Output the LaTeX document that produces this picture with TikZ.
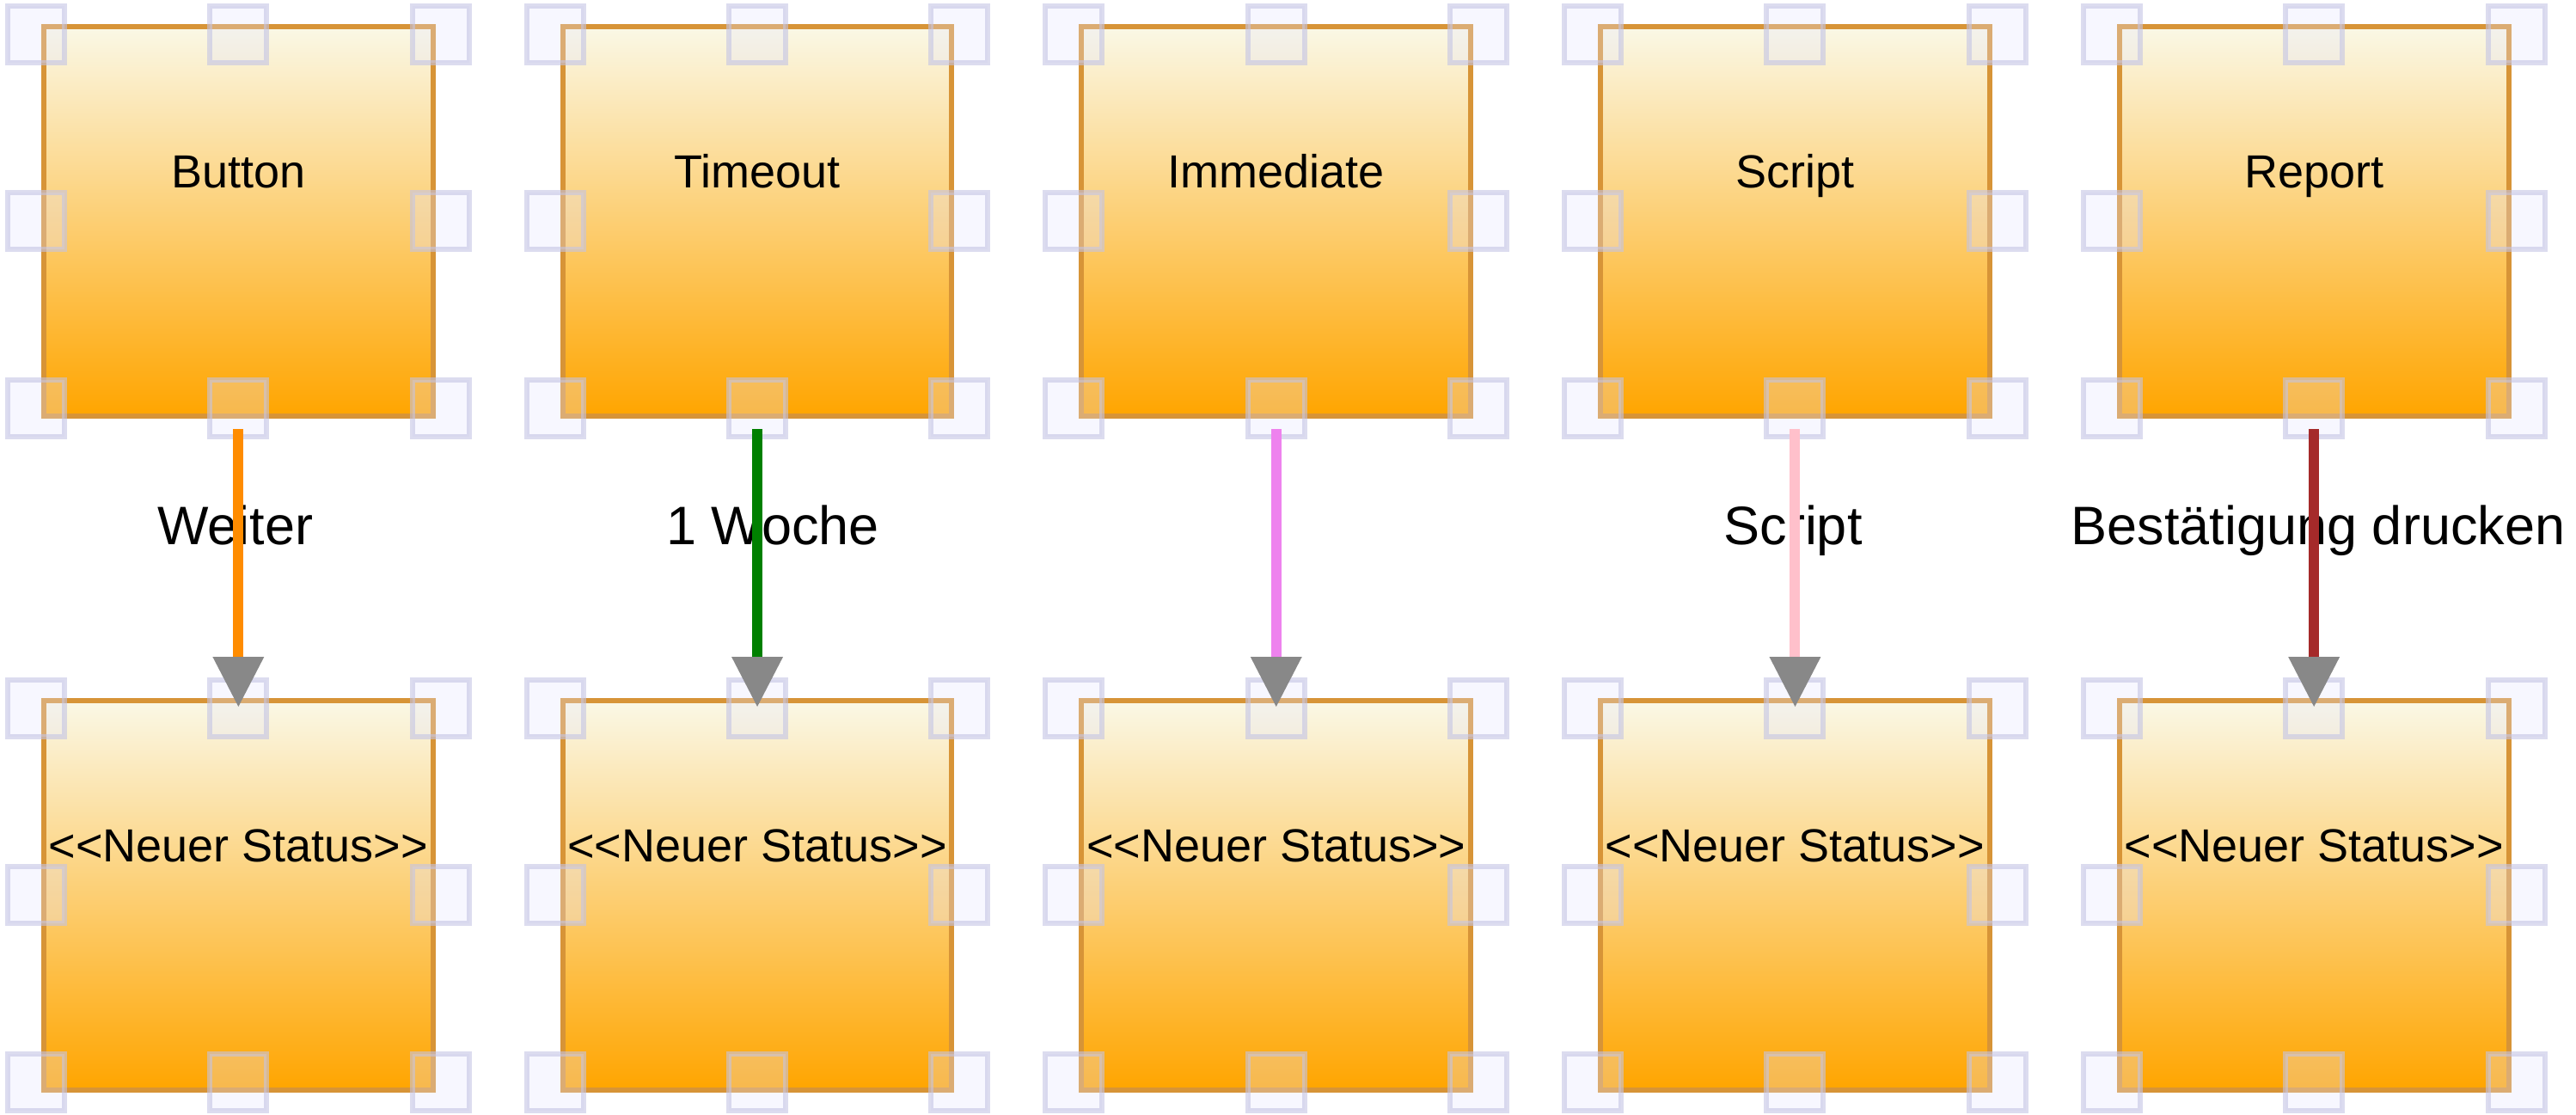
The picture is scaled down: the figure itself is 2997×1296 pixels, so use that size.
\documentclass[tikz,border=0pt]{standalone}
\usepackage{fontspec}
\setmainfont{Liberation Sans}[Ligatures=TeXOff]
\usetikzlibrary{arrows.meta}
\definecolor{boxstroke}{RGB}{215,148,55}
\definecolor{boxtop}{RGB}{250,248,230}
\definecolor{boxbottom}{RGB}{255,165,0}
\definecolor{handlestroke}{RGB}{196,196,228}
\definecolor{handlefill}{RGB}{230,230,255}
\definecolor{arrowgray}{RGB}{136,136,136}
\definecolor{cdarkorange}{RGB}{255,140,0}
\definecolor{cgreen}{RGB}{0,128,0}
\definecolor{cviolet}{RGB}{238,130,238}
\definecolor{cpink}{RGB}{255,192,203}
\definecolor{cbrown}{RGB}{165,42,42}
\begin{document}
\begin{tikzpicture}[x=1pt,y=-1pt,
  box/.style={rectangle, draw=boxstroke, line width=6pt, minimum width=452.7pt, minimum height=452.7pt, inner sep=0pt, outer sep=0pt, top color=boxtop, bottom color=boxbottom},
  ntext/.style={font=\fontsize{54}{60}\selectfont, inner sep=0pt, outer sep=0pt, anchor=base},
  lab/.style={font=\fontsize{63}{70}\selectfont, inner sep=0pt, outer sep=0pt, anchor=base},
  handle/.style={rectangle, draw=handlestroke, draw opacity=0.6, fill=handlefill, fill opacity=0.3, line width=6pt, minimum size=66pt, inner sep=0pt, outer sep=0pt},
  conn/.style={line width=12pt, shorten <=15.3pt, shorten >=-7pt, -{Triangle[width=60pt,length=58pt,line width=0pt,color=arrowgray]}}
]
\useasboundingbox (0,0) rectangle (2997,1296);
% boxes
\node[box] (a1) at (277.35,257.35) {};
\node[box] (a2) at (881.05,257.35) {};
\node[box] (a3) at (1484.75,257.35) {};
\node[box] (a4) at (2088.45,257.35) {};
\node[box] (a5) at (2692.15,257.35) {};
\node[box] (b1) at (277.35,1041.35) {};
\node[box] (b2) at (881.05,1041.35) {};
\node[box] (b3) at (1484.75,1041.35) {};
\node[box] (b4) at (2088.45,1041.35) {};
\node[box] (b5) at (2692.15,1041.35) {};
% box texts
\node[ntext] (ta1) at ([yshift=-187pt]a1.north) {Button};
\node[ntext] (ta2) at ([yshift=-187pt]a2.north) {Timeout};
\node[ntext] (ta3) at ([yshift=-187pt]a3.north) {Immediate};
\node[ntext] (ta4) at ([yshift=-187pt]a4.north) {Script};
\node[ntext] (ta5) at ([yshift=-187pt]a5.north) {Report};
\foreach \b in {b1,b2,b3,b4,b5}{
  \node[ntext] (t\b) at ([yshift=-187pt]\b.north) {<<Neuer Status>>};
}
% handles
\foreach \b in {a1,a2,a3,a4,a5,b1,b2,b3,b4,b5}{
  \node[handle] (\b-h1) at ([shift={(-9,9)}]\b.north west) {};
  \node[handle] (\b-h2) at ([shift={(0,9)}]\b.north) {};
  \node[handle] (\b-h3) at ([shift={(9,9)}]\b.north east) {};
  \node[handle] (\b-h4) at ([shift={(-9,0)}]\b.west) {};
  \node[handle] (\b-h5) at ([shift={(9,0)}]\b.east) {};
  \node[handle] (\b-h6) at ([shift={(-9,-9)}]\b.south west) {};
  \node[handle] (\b-h7) at ([shift={(0,-9)}]\b.south) {};
  \node[handle] (\b-h8) at ([shift={(9,-9)}]\b.south east) {};
}
% labels
\node[lab] (l1) at (274,633) {Weiter};
\node[lab] (l2) at (899,633) {1 Woche};
\node[lab] (l4) at (2086,633) {Script};
\node[lab] (l5) at (2697,633) {Bestätigung drucken};
% connectors
\draw[conn, draw=cdarkorange] (a1.south) -- (b1.north);
\draw[conn, draw=cgreen] (a2.south) -- (b2.north);
\draw[conn, draw=cviolet] (a3.south) -- (b3.north);
\draw[conn, draw=cpink] (a4.south) -- (b4.north);
\draw[conn, draw=cbrown] (a5.south) -- (b5.north);
\end{tikzpicture}
\end{document}
